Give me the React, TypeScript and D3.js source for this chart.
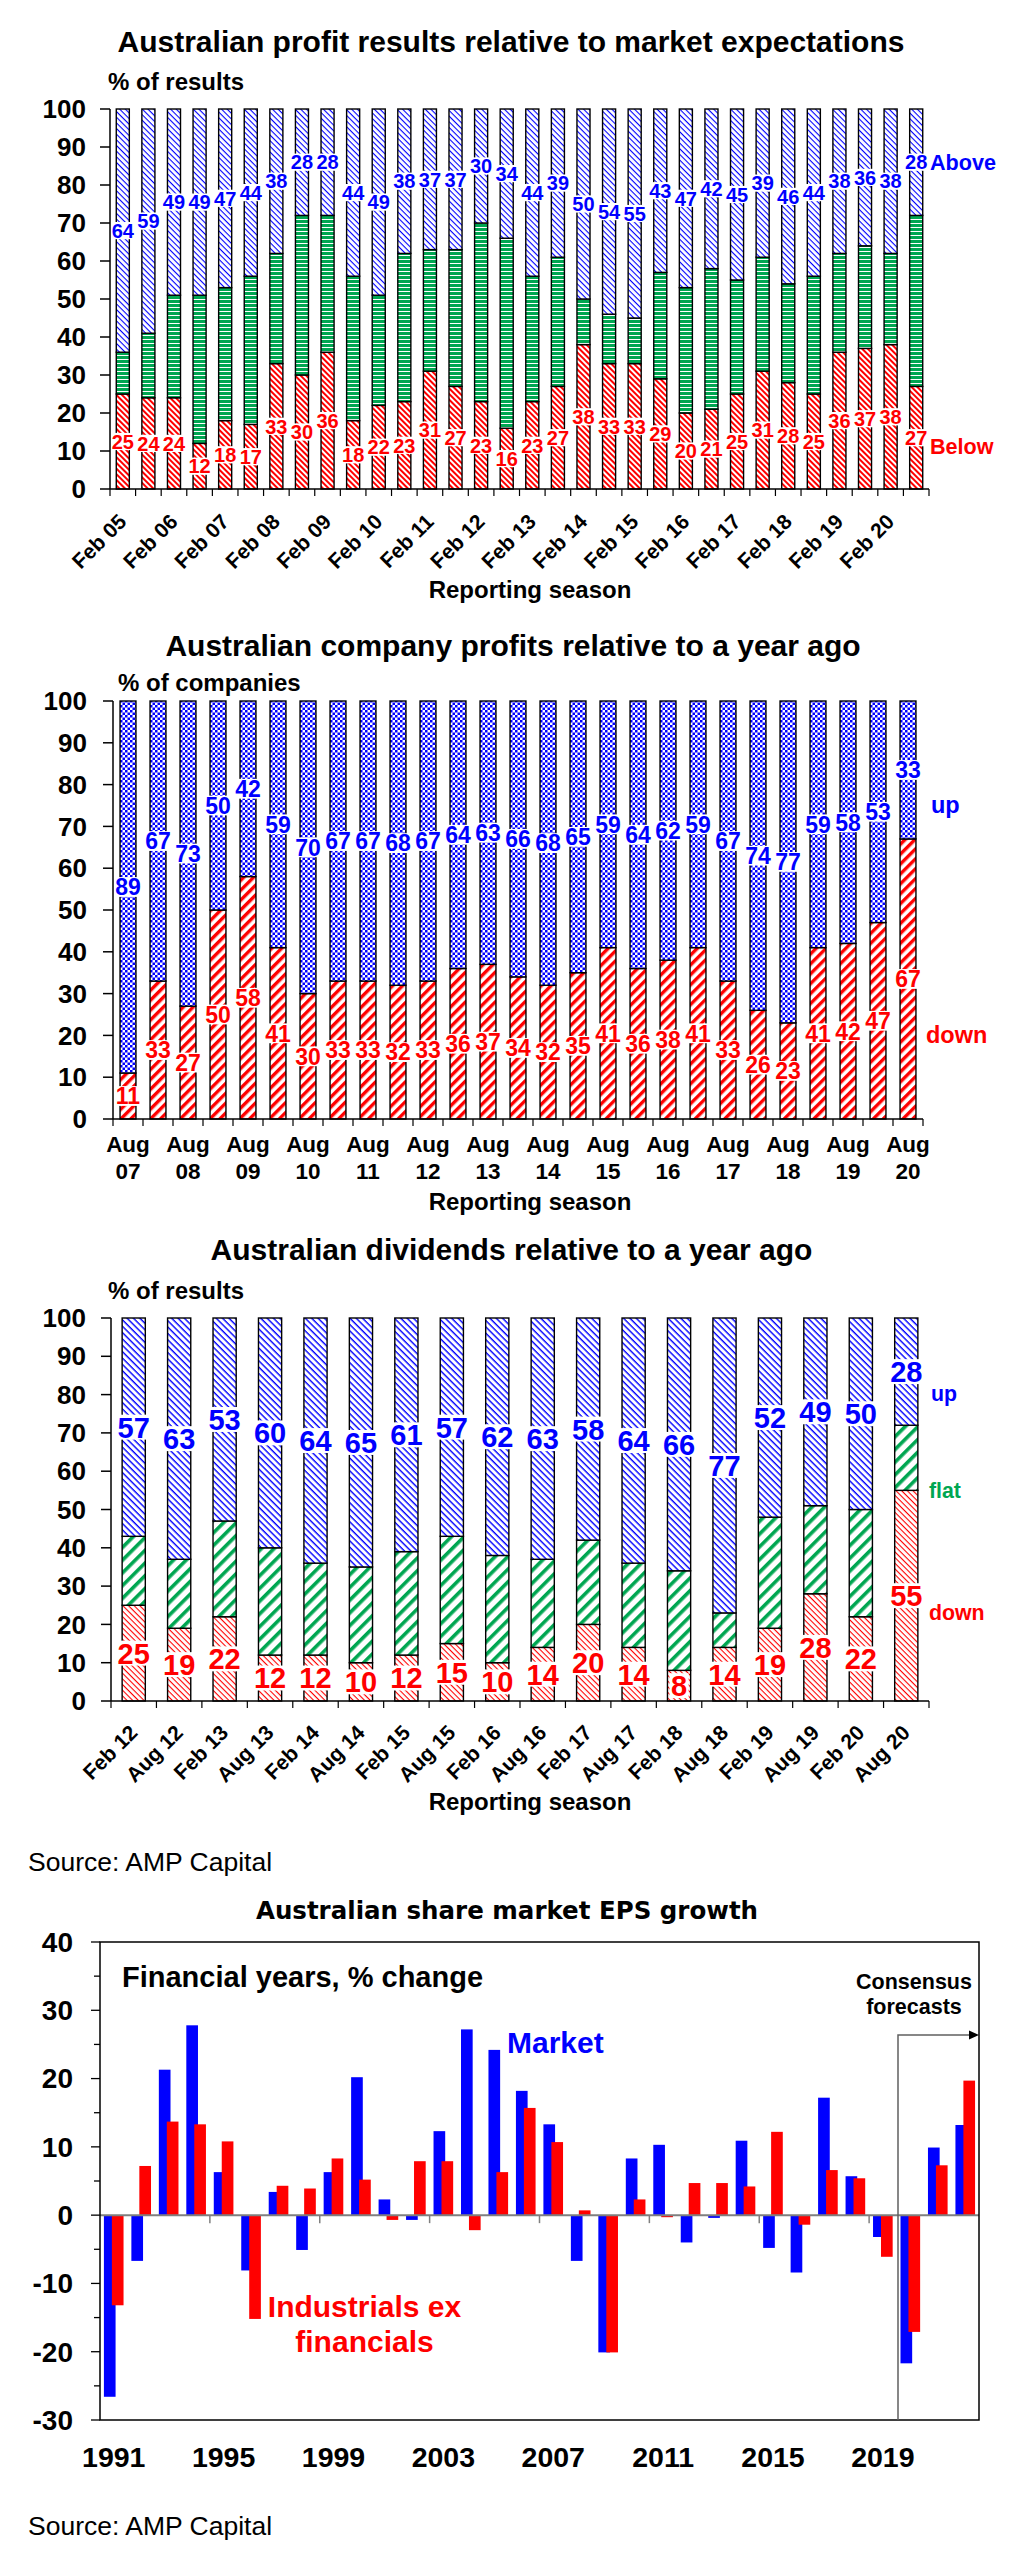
import React from 'react'
import * as d3 from 'd3'

const ARIAL = "'Liberation Sans', Arial, sans-serif"
const WIDE = "'DejaVu Sans', Verdana, sans-serif"
const BLUE = '#0000ff'
const RED = '#ff0000'
const GREEN = '#00a651'

// Chart 1: profit results relative to market expectations
const seasons1 = ['Feb 05', 'Aug 05', 'Feb 06', 'Aug 06', 'Feb 07', 'Aug 07', 'Feb 08', 'Aug 08', 'Feb 09', 'Aug 09',
  'Feb 10', 'Aug 10', 'Feb 11', 'Aug 11', 'Feb 12', 'Aug 12', 'Feb 13', 'Aug 13', 'Feb 14', 'Aug 14', 'Feb 15', 'Aug 15',
  'Feb 16', 'Aug 16', 'Feb 17', 'Aug 17', 'Feb 18', 'Aug 18', 'Feb 19', 'Aug 19', 'Feb 20', 'Aug 20']
const below1 = [25, 24, 24, 12, 18, 17, 33, 30, 36, 18, 22, 23, 31, 27, 23, 16, 23, 27, 38, 33, 33, 29, 20, 21, 25, 31, 28, 25, 36, 37, 38, 27]
const inline1 = [11, 17, 27, 39, 35, 39, 29, 42, 36, 38, 29, 39, 32, 36, 47, 50, 33, 34, 12, 13, 12, 28, 33, 37, 30, 30, 26, 31, 26, 27, 24, 45]
const above1 = [64, 59, 49, 49, 47, 44, 38, 28, 28, 44, 49, 38, 37, 37, 30, 34, 44, 39, 50, 54, 55, 43, 47, 42, 45, 39, 46, 44, 38, 36, 38, 28]

// Chart 2: company profits relative to a year ago
const seasons2 = ['Aug 07', 'Feb 08', 'Aug 08', 'Feb 09', 'Aug 09', 'Feb 10', 'Aug 10', 'Feb 11', 'Aug 11', 'Feb 12', 'Aug 12',
  'Feb 13', 'Aug 13', 'Feb 14', 'Aug 14', 'Feb 15', 'Aug 15', 'Feb 16', 'Aug 16', 'Feb 17', 'Aug 17', 'Feb 18', 'Aug 18',
  'Feb 19', 'Aug 19', 'Feb 20', 'Aug 20']
const down2 = [11, 33, 27, 50, 58, 41, 30, 33, 33, 32, 33, 36, 37, 34, 32, 35, 41, 36, 38, 41, 33, 26, 23, 41, 42, 47, 67]
const up2 = [89, 67, 73, 50, 42, 59, 70, 67, 67, 68, 67, 64, 63, 66, 68, 65, 59, 64, 62, 59, 67, 74, 77, 59, 58, 53, 33]

// Chart 3: dividends relative to a year ago
const seasons3 = ['Feb 12', 'Aug 12', 'Feb 13', 'Aug 13', 'Feb 14', 'Aug 14', 'Feb 15', 'Aug 15', 'Feb 16', 'Aug 16',
  'Feb 17', 'Aug 17', 'Feb 18', 'Aug 18', 'Feb 19', 'Aug 19', 'Feb 20', 'Aug 20']
const down3 = [25, 19, 22, 12, 12, 10, 12, 15, 10, 14, 20, 14, 8, 14, 19, 28, 22, 55]
const flat3 = [18, 18, 25, 28, 24, 25, 27, 28, 28, 23, 22, 22, 26, 9, 29, 23, 28, 17]
const up3 = [57, 63, 53, 60, 64, 65, 61, 57, 62, 63, 58, 64, 66, 77, 52, 49, 50, 28]

// Chart 4: EPS growth, financial years
const years4 = [1991, 1992, 1993, 1994, 1995, 1996, 1997, 1998, 1999, 2000, 2001, 2002, 2003, 2004, 2005, 2006,
  2007, 2008, 2009, 2010, 2011, 2012, 2013, 2014, 2015, 2016, 2017, 2018, 2019, 2020, 2021, 2022]
const market4 = [-26.6, -6.7, 21.3, 27.8, 6.3, -8.1, 3.4, -5.1, 6.3, 20.2, 2.3, -0.7, 12.3, 27.2, 24.2, 18.2,
  13.3, -6.7, -20.1, 8.3, 10.3, -4.0, -0.4, 10.9, -4.8, -8.4, 17.2, 5.7, -3.2, -21.7, 9.9, 13.2]
const industrials4 = [-13.2, 7.2, 13.7, 13.3, 10.8, -15.2, 4.3, 3.9, 8.3, 5.2, -0.7, 7.9, 7.9, -2.2, 6.3, 15.7,
  10.7, 0.7, -20.1, 2.3, -0.3, 4.7, 4.7, 4.2, 12.2, -1.4, 6.6, 5.4, -6.1, -17.1, 7.3, 19.7]
const yearTicks4 = [1991, 1995, 1999, 2003, 2007, 2011, 2015, 2019]

interface Geo { x0: number; x1: number; yTop: number; yBot: number; pad: number; tickLabelX: number }
interface Layer { key: string; values: number[]; fill: string; labelColor?: string }

const stripe = (id: string, color: string, period: number, thick: number, angle: number) => (
  <pattern id={id} patternUnits="userSpaceOnUse" width={period} height={period} patternTransform={`rotate(${angle})`}>
    <rect width={period} height={period} fill="#fff" />
    <rect width={period} height={thick} fill={color} />
  </pattern>
)

const Patterns = () => (
  <defs>
    {stripe('p1Above', BLUE, 4, 1.1, 45)}
    {stripe('p1Below', RED, 4, 2, 45)}
    <pattern id="p1Mid" patternUnits="userSpaceOnUse" width={4} height={4}>
      <rect width={4} height={4} fill={GREEN} />
      <rect y={3} width={4} height={1.1} fill="#fff" />
    </pattern>
    <pattern id="p2Up" patternUnits="userSpaceOnUse" width={5} height={5}>
      <rect width={5} height={5} fill="#fff" />
      <rect width={2.5} height={2.5} fill={BLUE} />
      <rect x={2.5} y={2.5} width={2.5} height={2.5} fill={BLUE} />
    </pattern>
    {stripe('p2Down', RED, 7, 3.4, -45)}
    {stripe('p3Up', BLUE, 4.5, 1.4, 45)}
    {stripe('p3Flat', GREEN, 9, 3.6, -45)}
    {stripe('p3Down', RED, 4, 1.1, 45)}
  </defs>
)

function StackedPanel(props: {
  geo: Geo
  cats: string[]
  layers: Layer[]
  labelSize: number
  title: string
  titleX: number
  titleY: number
  sub: string
  subX: number
  subY: number
  axisTitleY: number
  tickLabel: (cat: string, i: number, cx: number) => React.ReactNode
  children?: React.ReactNode
}) {
  const { geo, cats, layers, labelSize: fs } = props
  const x = d3.scaleBand<string>().domain(cats).range([geo.x0, geo.x1]).paddingInner(geo.pad).paddingOuter(geo.pad / 2)
  const y = d3.scaleLinear().domain([0, 100]).range([geo.yBot, geo.yTop])
  const rows = cats.map((c, i) => {
    const r: Record<string, number> = {}
    layers.forEach(l => { r[l.key] = l.values[i] })
    return r
  })
  const stacked = d3.stack<Record<string, number>>().keys(layers.map(l => l.key))(rows)
  const step = x.step()
  const bounds = d3.range(cats.length + 1).map(i => geo.x0 + i * step)

  return (
    <g>
      <text x={props.titleX} y={props.titleY} textAnchor="middle" fontFamily={ARIAL} fontWeight="bold" fontSize={30}>{props.title}</text>
      <text x={props.subX} y={props.subY} fontFamily={ARIAL} fontWeight="bold" fontSize={24}>{props.sub}</text>

      {stacked.map((s, li) => (
        <g key={layers[li].key}>
          {s.map((d, i) => (
            <rect key={i} x={x(cats[i])} y={y(d[1])} width={x.bandwidth()} height={y(d[0]) - y(d[1])}
              fill={`url(#${layers[li].fill})`} stroke="#000" strokeWidth={1.4} />
          ))}
        </g>
      ))}

      {stacked.map((s, li) => layers[li].labelColor ? (
        <g key={'lab' + li}>
          {s.map((d, i) => {
            const t = String(layers[li].values[i])
            const cx = (x(cats[i]) as number) + x.bandwidth() / 2
            const cy = y((d[0] + d[1]) / 2)
            const w = t.length * 0.556 * fs + 3
            const h = fs * 0.86
            return (
              <g key={i}>
                <rect x={cx - w / 2} y={cy - h / 2} width={w} height={h} fill="#fff" />
                <text x={cx} y={cy + 0.36 * fs} textAnchor="middle" fontFamily={ARIAL} fontWeight="bold"
                  fontSize={fs} fill={layers[li].labelColor}>{t}</text>
              </g>
            )
          })}
        </g>
      ) : null)}

      {/* axes */}
      <line x1={geo.x0} x2={geo.x0} y1={geo.yTop} y2={geo.yBot} stroke="#000" strokeWidth={1.5} />
      <line x1={geo.x0} x2={geo.x1} y1={geo.yBot} y2={geo.yBot} stroke="#000" strokeWidth={1.5} />
      {y.ticks(10).map(v => (
        <g key={v}>
          <line x1={geo.x0 - 10} x2={geo.x0} y1={y(v)} y2={y(v)} stroke="#000" strokeWidth={1.5} />
          <text x={geo.tickLabelX} y={y(v)} dy="0.35em" textAnchor="end" fontFamily={ARIAL} fontWeight="bold" fontSize={26}>{v}</text>
        </g>
      ))}
      {bounds.map((bx, i) => (
        <line key={i} x1={bx} x2={bx} y1={geo.yBot} y2={geo.yBot + 7} stroke="#000" strokeWidth={1.2} />
      ))}
      {cats.map((c, i) => props.tickLabel(c, i, (x(c) as number) + x.bandwidth() / 2))}
      <text x={530} y={props.axisTitleY} textAnchor="middle" fontFamily={ARIAL} fontWeight="bold" fontSize={24}>Reporting season</text>
      {props.children}
    </g>
  )
}

function EpsChart() {
  const x = d3.scaleBand<number>().domain(years4).range([100, 979])
  const y = d3.scaleLinear().domain([-30, 40]).range([2420, 1942])
  const st = x.step()
  const bw = st * 0.425
  const offBlue = st * 0.142
  const offRed = offBlue + st * 0.29
  const bar = (v: number) => ({ y: y(Math.max(0, v)), h: Math.abs(y(v) - y(0)) })

  return (
    <g>
      <text x={28} y={1871} fontFamily={ARIAL} fontSize={26.5}>Source: AMP Capital</text>
      <text x={507} y={1919} textAnchor="middle" fontFamily={WIDE} fontWeight="bold" fontSize={24.5}>Australian share market EPS growth</text>

      {market4.map((v, i) => {
        const b = bar(v)
        return <rect key={'m' + i} x={(x(years4[i]) as number) + offBlue} y={b.y} width={bw} height={b.h} fill={BLUE} />
      })}
      {industrials4.map((v, i) => {
        const b = bar(v)
        return <rect key={'r' + i} x={(x(years4[i]) as number) + offRed} y={b.y} width={bw} height={b.h} fill={RED} />
      })}

      <line x1={100} x2={979} y1={y(0)} y2={y(0)} stroke="#7f7f7f" strokeWidth={2} />
      {years4.filter((yr, i) => i > 0 && i % 4 === 0).map(yr => (
        <line key={yr} x1={x(yr)} x2={x(yr)} y1={y(0)} y2={y(0) + 8} stroke="#7f7f7f" strokeWidth={1.5} />
      ))}
      <rect x={100} y={1942} width={879} height={478} fill="none" stroke="#000" strokeWidth={1.5} />

      {d3.range(-30, 41, 5).map(v => (
        <line key={v} x1={v % 10 === 0 ? 91 : 94} x2={100} y1={y(v)} y2={y(v)} stroke="#000" strokeWidth={1.3} />
      ))}
      {d3.range(-30, 41, 10).map(v => (
        <text key={v} x={73} y={y(v)} dy="0.35em" textAnchor="end" fontFamily={ARIAL} fontWeight="bold" fontSize={28}>{v}</text>
      ))}
      {yearTicks4.map(yr => (
        <text key={yr} x={(x(yr) as number) + st / 2} y={2467} textAnchor="middle" fontFamily={ARIAL} fontWeight="bold" fontSize={28.5}>{yr}</text>
      ))}

      <text x={122} y={1987} fontFamily={ARIAL} fontWeight="bold" fontSize={29}>Financial years, % change</text>
      <text x={507} y={2053} fontFamily={ARIAL} fontWeight="bold" fontSize={30} fill={BLUE}>Market</text>
      <text x={364.5} y={2317} textAnchor="middle" fontFamily={ARIAL} fontWeight="bold" fontSize={30} fill={RED}>Industrials ex</text>
      <text x={364.5} y={2352} textAnchor="middle" fontFamily={ARIAL} fontWeight="bold" fontSize={30} fill={RED}>financials</text>

      <text x={914} y={1989} textAnchor="middle" fontFamily={ARIAL} fontWeight="bold" fontSize={21.5}>Consensus</text>
      <text x={914} y={2014} textAnchor="middle" fontFamily={ARIAL} fontWeight="bold" fontSize={21.5}>forecasts</text>
      <path d="M898,2420 V2035 H970" fill="none" stroke="#606060" strokeWidth={1.5} />
      <path d="M979,2035 L969,2030.5 L969,2039.5 Z" fill="#000" />

      <text x={28} y={2535} fontFamily={ARIAL} fontSize={26.5}>Source: AMP Capital</text>
    </g>
  )
}

export default function App() {
  const geo1: Geo = { x0: 110, x1: 929, yTop: 109, yBot: 489, pad: 0.49, tickLabelX: 86 }
  const geo2: Geo = { x0: 113, x1: 923, yTop: 701, yBot: 1119, pad: 0.47, tickLabelX: 87 }
  const geo3: Geo = { x0: 111, x1: 929, yTop: 1318, yBot: 1701, pad: 0.49, tickLabelX: 86 }

  return (
    <svg width={1016} height={2560} style={{ position: 'absolute', left: 0, top: 0, background: '#fff' }}>
      <Patterns />
      <rect width={1016} height={2560} fill="#fff" />

      <StackedPanel geo={geo1} cats={seasons1} labelSize={20}
        layers={[
          { key: 'below', values: below1, fill: 'p1Below', labelColor: RED },
          { key: 'inline', values: inline1, fill: 'p1Mid' },
          { key: 'above', values: above1, fill: 'p1Above', labelColor: BLUE },
        ]}
        title="Australian profit results relative to market expectations" titleX={511} titleY={52}
        sub="% of results" subX={108} subY={90} axisTitleY={598}
        tickLabel={(c, i, cx) => i % 2 === 0 ? (
          <text key={c} transform={`translate(${cx + 5},${geo1.yBot + 34}) rotate(-45)`} textAnchor="end"
            fontFamily={ARIAL} fontWeight="bold" fontSize={21}>{c}</text>
        ) : null}>
        <text x={930} y={162} dy="0.36em" fontFamily={ARIAL} fontWeight="bold" fontSize={21.6} fill={BLUE}>Above</text>
        <text x={930} y={446} dy="0.36em" fontFamily={ARIAL} fontWeight="bold" fontSize={21.6} fill={RED}>Below</text>
      </StackedPanel>

      <StackedPanel geo={geo2} cats={seasons2} labelSize={23}
        layers={[
          { key: 'down', values: down2, fill: 'p2Down', labelColor: RED },
          { key: 'up', values: up2, fill: 'p2Up', labelColor: BLUE },
        ]}
        title="Australian company profits relative to a year ago" titleX={513} titleY={656}
        sub="% of companies" subX={118} subY={691} axisTitleY={1210}
        tickLabel={(c, i, cx) => i % 2 === 0 ? (
          <g key={c}>
            <text x={cx} y={1152} textAnchor="middle" fontFamily={ARIAL} fontWeight="bold" fontSize={22.5}>{c.split(' ')[0]}</text>
            <text x={cx} y={1179} textAnchor="middle" fontFamily={ARIAL} fontWeight="bold" fontSize={22.5}>{c.split(' ')[1]}</text>
          </g>
        ) : null}>
        <text x={931} y={805} dy="0.36em" fontFamily={ARIAL} fontWeight="bold" fontSize={23.5} fill={BLUE}>up</text>
        <text x={926} y={1035} dy="0.36em" fontFamily={ARIAL} fontWeight="bold" fontSize={23.5} fill={RED}>down</text>
      </StackedPanel>

      <StackedPanel geo={geo3} cats={seasons3} labelSize={29}
        layers={[
          { key: 'down', values: down3, fill: 'p3Down', labelColor: RED },
          { key: 'flat', values: flat3, fill: 'p3Flat' },
          { key: 'up', values: up3, fill: 'p3Up', labelColor: BLUE },
        ]}
        title="Australian dividends relative to a year ago" titleX={511.5} titleY={1260}
        sub="% of results" subX={108} subY={1299} axisTitleY={1810}
        tickLabel={(c, i, cx) => (
          <text key={c} transform={`translate(${cx + 5},${geo3.yBot + 33}) rotate(-45)`} textAnchor="end"
            fontFamily={ARIAL} fontWeight="bold" fontSize={21}>{c}</text>
        )}>
        <text x={931} y={1393} dy="0.36em" fontFamily={ARIAL} fontWeight="bold" fontSize={21.3} fill={BLUE}>up</text>
        <text x={929} y={1490} dy="0.36em" fontFamily={ARIAL} fontWeight="bold" fontSize={21.3} fill={GREEN}>flat</text>
        <text x={929} y={1612} dy="0.36em" fontFamily={ARIAL} fontWeight="bold" fontSize={21.3} fill={RED}>down</text>
      </StackedPanel>

      <EpsChart />
    </svg>
  )
}
